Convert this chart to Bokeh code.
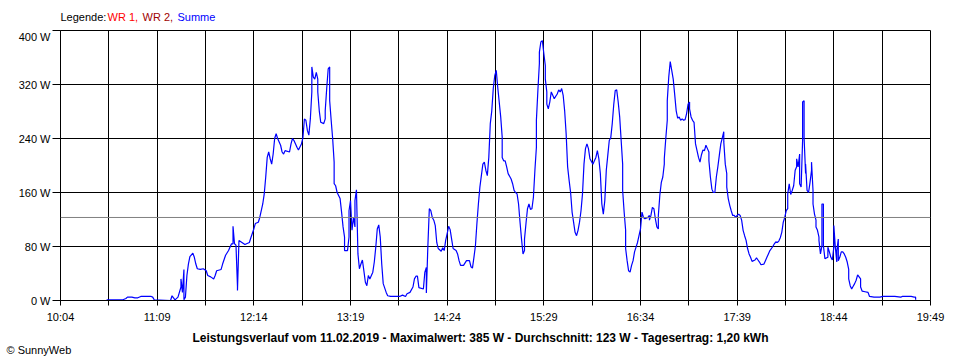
from bokeh.plotting import figure
from bokeh.models import FixedTicker, Span, Range1d
from bokeh.layouts import column
from bokeh.core.properties import value
from bokeh.embed import file_html
from bokeh.resources import INLINE

# ---------------- data ----------------
times = [
    "10:35", "10:46", "10:48", "10:49", "10:52", "10:54", "10:56", "10:58", "11:05", "11:06",
    "11:07", "11:18", "11:19", "11:21", "11:23", "11:25", "11:25", "11:26", "11:27", "11:27",
    "11:28", "11:29", "11:30", "11:31", "11:33", "11:34", "11:35", "11:36", "11:38", "11:40",
    "11:42", "11:43", "11:45", "11:47", "11:48", "11:49", "11:52", "11:53", "11:55", "11:57",
    "11:59", "12:00", "12:00", "12:01", "12:02", "12:03", "12:03", "12:04", "12:06", "12:08",
    "12:11", "12:12", "12:14", "12:15", "12:17", "12:18", "12:20", "12:21", "12:22", "12:23",
    "12:24", "12:25", "12:26", "12:27", "12:28", "12:29", "12:30", "12:32", "12:33", "12:34",
    "12:35", "12:38", "12:39", "12:40", "12:41", "12:43", "12:44", "12:46", "12:47", "12:48",
    "12:49", "12:50", "12:51", "12:52", "12:53", "12:53", "12:54", "12:55", "12:56", "12:57",
    "12:57", "12:58", "12:59", "13:01", "13:02", "13:02", "13:03", "13:04", "13:05", "13:05",
    "13:06", "13:07", "13:08", "13:08", "13:09", "13:10", "13:12", "13:13", "13:14", "13:15",
    "13:15", "13:17", "13:18", "13:18", "13:19", "13:20", "13:21", "13:22", "13:22", "13:23",
    "13:24", "13:25", "13:26", "13:27", "13:28", "13:29", "13:30", "13:31", "13:32", "13:34",
    "13:35", "13:36", "13:37", "13:38", "13:39", "13:40", "13:41", "13:43", "13:44", "13:46",
    "13:52", "13:54", "13:56", "13:57", "13:59", "14:01", "14:02", "14:03", "14:04", "14:05",
    "14:08", "14:09", "14:10", "14:10", "14:11", "14:12", "14:13", "14:14", "14:15", "14:16",
    "14:17", "14:18", "14:20", "14:21", "14:22", "14:23", "14:24", "14:25", "14:26", "14:27",
    "14:28", "14:30", "14:31", "14:32", "14:33", "14:35", "14:37", "14:39", "14:40", "14:41",
    "14:42", "14:43", "14:44", "14:45", "14:46", "14:48", "14:49", "14:50", "14:51", "14:52",
    "14:53", "14:54", "14:55", "14:56", "14:57", "14:58", "14:59", "15:00", "15:01", "15:01",
    "15:02", "15:03", "15:04", "15:05", "15:07", "15:08", "15:09", "15:10", "15:11", "15:12",
    "15:13", "15:14", "15:15", "15:16", "15:16", "15:17", "15:18", "15:19", "15:20", "15:21",
    "15:22", "15:23", "15:24", "15:24", "15:25", "15:26", "15:26", "15:27", "15:28", "15:29",
    "15:30", "15:30", "15:31", "15:31", "15:32", "15:33", "15:34", "15:35", "15:36", "15:38",
    "15:39", "15:40", "15:41", "15:42", "15:43", "15:44", "15:45", "15:46", "15:47", "15:48",
    "15:49", "15:50", "15:51", "15:52", "15:53", "15:54", "15:55", "15:56", "15:57", "15:58",
    "15:59", "16:00", "16:02", "16:03", "16:04", "16:05", "16:06", "16:07", "16:08", "16:09",
    "16:10", "16:11", "16:12", "16:13", "16:14", "16:15", "16:16", "16:17", "16:18", "16:19",
    "16:20", "16:21", "16:22", "16:22", "16:23", "16:24", "16:24", "16:25", "16:26", "16:27",
    "16:28", "16:29", "16:30", "16:31", "16:32", "16:33", "16:34", "16:35", "16:36", "16:37",
    "16:39", "16:40", "16:40", "16:41", "16:42", "16:43", "16:44", "16:45", "16:46", "16:46",
    "16:47", "16:48", "16:49", "16:50", "16:50", "16:51", "16:52", "16:52", "16:53", "16:54",
    "16:55", "16:56", "16:57", "16:58", "16:59", "17:00", "17:01", "17:02", "17:03", "17:04",
    "17:05", "17:06", "17:07", "17:07", "17:08", "17:09", "17:10", "17:11", "17:12", "17:13",
    "17:14", "17:15", "17:16", "17:17", "17:18", "17:19", "17:20", "17:20", "17:21", "17:22",
    "17:23", "17:24", "17:25", "17:26", "17:27", "17:28", "17:29", "17:30", "17:30", "17:31",
    "17:32", "17:32", "17:33", "17:34", "17:35", "17:36", "17:37", "17:38", "17:39", "17:40",
    "17:41", "17:42", "17:43", "17:44", "17:45", "17:46", "17:47", "17:48", "17:49", "17:51",
    "17:52", "17:53", "17:54", "17:55", "17:57", "17:58", "17:59", "18:00", "18:01", "18:03",
    "18:04", "18:05", "18:06", "18:07", "18:08", "18:09", "18:10", "18:11", "18:12", "18:13",
    "18:13", "18:14", "18:15", "18:16", "18:17", "18:18", "18:19", "18:19", "18:20", "18:21",
    "18:21", "18:22", "18:23", "18:23", "18:24", "18:24", "18:25", "18:25", "18:26", "18:27",
    "18:28", "18:29", "18:29", "18:30", "18:30", "18:31", "18:32", "18:32", "18:33", "18:34",
    "18:34", "18:35", "18:36", "18:36", "18:37", "18:37", "18:38", "18:40", "18:40", "18:41",
    "18:42", "18:43", "18:44", "18:44", "18:45", "18:46", "18:46", "18:47", "18:47", "18:48",
    "18:49", "18:50", "18:51", "18:52", "18:53", "18:54", "18:54", "18:55", "18:56", "18:57",
    "18:58", "18:59", "19:00", "19:01", "19:02", "19:02", "19:03", "19:05", "19:07", "19:08",
    "19:11", "19:15", "19:17", "19:22", "19:25", "19:29", "19:30", "19:36", "19:38", "19:39",
    "19:39",
]
summe_w = [
    1, 1, 3, 5, 5, 4, 4, 6, 6, 5,
    1, 0, 7, 1, 5, 20, 32, 12, 46, 1,
    5, 37, 54, 65, 70, 64, 54, 47, 46, 47,
    44, 37, 35, 32, 37, 44, 46, 54, 67, 74,
    84, 84, 110, 84, 82, 21, 15, 89, 86, 83,
    86, 93, 106, 114, 116, 123, 143, 158, 183, 212,
    220, 210, 202, 217, 240, 247, 240, 230, 220, 217,
    222, 220, 232, 240, 237, 227, 223, 232, 241, 269,
    267, 252, 245, 269, 309, 346, 331, 328, 338, 328,
    309, 281, 264, 262, 269, 281, 314, 343, 346, 296,
    267, 240, 205, 173, 170, 160, 151, 131, 109, 94,
    74, 74, 94, 133, 148, 104, 123, 109, 148, 164,
    69, 47, 54, 60, 44, 27, 22, 37, 32, 42,
    57, 79, 106, 112, 94, 54, 25, 12, 7, 6,
    6, 8, 6, 10, 12, 20, 32, 36, 36, 19,
    17, 42, 49, 11, 79, 136, 133, 123, 119, 111,
    86, 77, 73, 78, 74, 89, 99, 110, 105, 91,
    77, 74, 69, 59, 52, 52, 59, 59, 50, 48,
    64, 81, 114, 143, 168, 202, 205, 193, 185, 212,
    262, 281, 314, 333, 341, 316, 294, 272, 242, 212,
    207, 207, 198, 188, 180, 173, 163, 160, 158, 143,
    116, 91, 69, 74, 91, 114, 136, 143, 135, 136,
    153, 193, 227, 267, 311, 351, 368, 383, 385, 366,
    348, 328, 309, 291, 284, 294, 309, 304, 299, 306,
    312, 309, 314, 304, 281, 247, 198, 178, 160, 131,
    116, 101, 96, 104, 116, 133, 158, 202, 225, 232,
    225, 210, 202, 207, 212, 222, 210, 188, 143, 128,
    148, 193, 215, 237, 241, 262, 290, 311, 312, 294,
    272, 237, 202, 163, 131, 104, 77, 59, 44, 42,
    52, 59, 72, 79, 86, 96, 106, 131, 123, 121,
    123, 126, 119, 126, 138, 136, 121, 109, 106, 126,
    156, 175, 183, 202, 210, 240, 267, 296, 331, 354,
    341, 328, 305, 281, 270, 272, 267, 269, 267, 268,
    277, 291, 294, 284, 272, 267, 264, 232, 222, 212,
    205, 216, 223, 222, 230, 225, 220, 207, 183, 165,
    160, 160, 183, 198, 215, 232, 241, 250, 235, 202,
    188, 168, 151, 141, 133, 126, 126, 123, 126, 128,
    126, 119, 104, 96, 89, 77, 69, 64, 58, 60,
    63, 60, 57, 53, 54, 59, 64, 69, 74, 80,
    84, 87, 86, 88, 93, 101, 116, 123, 133, 136,
    158, 173, 157, 163, 170, 193, 198, 210, 198, 217,
    173, 168, 237, 294, 296, 241, 188, 202, 163, 160,
    175, 193, 205, 163, 143, 128, 119, 109, 104, 94,
    89, 69, 81, 143, 143, 81, 62, 64, 79, 72,
    64, 60, 79, 111, 79, 57, 74, 91, 59, 64,
    72, 72, 69, 64, 57, 46, 32, 22, 17, 21,
    25, 30, 38, 35, 32, 20, 14, 13, 12, 6,
    5, 5, 6, 6, 6, 5, 6, 6, 5, 5,
    1,
]

x_tick_labels = ["10:04", "11:09", "12:14", "13:19", "14:24",
                 "15:29", "16:34", "17:39", "18:44", "19:49"]
y_tick_values = [0, 80, 160, 240, 320, 400]
y_max = 400
avg_w = 123

legend_texts = ["Legende:", "WR 1,", "WR 2,", "Summe"]
legend_colors = ["#000000", "#ff0000", "#a00000", "#0000ff"]
title_text = ("Leistungsverlauf vom 11.02.2019 - Maximalwert: 385 W - "
              "Durchschnitt: 123 W - Tagesertrag: 1,20 kWh")
footer_text = "\u00a9 SunnyWeb"

FONT = "Liberation Sans"
W = 960


def to_min(s):
    h, m = s.split(":")
    return int(h) * 60 + int(m)


xs = [to_min(t) for t in times]
major = [to_min(t) for t in x_tick_labels]
mids = [(a + b) / 2 for a, b in zip(major[:-1], major[1:])]


def strip(height):
    f = figure(width=W, height=height, output_backend="svg", toolbar_location=None,
               x_range=Range1d(0, W), y_range=Range1d(height, 0),
               min_border=0, background_fill_color="white",
               border_fill_color="white")
    f.axis.visible = False
    f.grid.visible = False
    f.outline_line_color = None
    f.frame_align = False
    return f


# ---- top strip: legend row ----
top = strip(30)
top.text(x=[60, 107, 142, 177], y=[16, 16, 16, 16],
         text=legend_texts, text_color=legend_colors,
         text_font=value(FONT), text_font_size="11px",
         text_baseline="middle", text_align="left")

# ---- main chart ----
p = figure(width=W, height=300, output_backend="svg", toolbar_location=None,
           x_range=Range1d(major[0], major[-1]), y_range=Range1d(0, y_max),
           min_border_left=60, min_border_right=30, min_border_top=0,
           min_border_bottom=30, background_fill_color="white",
           border_fill_color="white")
p.frame_align = False

p.outline_line_color = "black"
p.outline_line_width = 1

p.xaxis.ticker = FixedTicker(ticks=major, minor_ticks=mids)
p.xaxis.major_label_overrides = {m: lab for m, lab in zip(major, x_tick_labels)}
p.xaxis.major_tick_out = 5
p.xaxis.major_tick_in = 0
p.xaxis.minor_tick_out = 5
p.xaxis.minor_tick_in = 0
p.xaxis.minor_tick_line_color = "black"
p.xaxis.major_tick_line_color = "black"
p.xaxis.axis_line_color = "black"
p.xaxis.major_label_standoff = 5
p.xaxis.major_label_text_font = FONT
p.xaxis.major_label_text_font_size = "11px"
p.xaxis.major_label_text_color = "black"

p.yaxis.ticker = FixedTicker(ticks=y_tick_values, minor_ticks=[])
p.yaxis.major_label_overrides = {v: f"{v} W" for v in y_tick_values}
p.yaxis.major_tick_out = 8
p.yaxis.major_tick_in = 0
p.yaxis.major_tick_line_color = "black"
p.yaxis.axis_line_color = "black"
p.yaxis.major_label_standoff = 2
p.yaxis.major_label_text_font = FONT
p.yaxis.major_label_text_font_size = "11px"
p.yaxis.major_label_text_color = "black"

p.xgrid.grid_line_color = "black"
p.xgrid.grid_line_alpha = 1
p.xgrid.minor_grid_line_color = "black"
p.xgrid.minor_grid_line_alpha = 1
p.ygrid.grid_line_color = "black"
p.ygrid.grid_line_alpha = 1

p.add_layout(Span(location=avg_w, dimension="width", line_color="#808080",
                  line_width=1))

p.line(xs, summe_w, line_color="#0000ff", line_width=1.2)

# ---- bottom strip: summary title and footer ----
bot = strip(30)
bot.text(x=[480], y=[7], text=[title_text], text_color="black",
         text_font=value(FONT), text_font_size="12px", text_font_style="bold",
         text_baseline="middle", text_align="center")
bot.text(x=[6], y=[19], text=[footer_text], text_color="black",
         text_font=value(FONT), text_font_size="11px",
         text_baseline="middle", text_align="left")

layout = column(top, p, bot, spacing=0)
open("out.html", "w").write(file_html(layout, INLINE))
